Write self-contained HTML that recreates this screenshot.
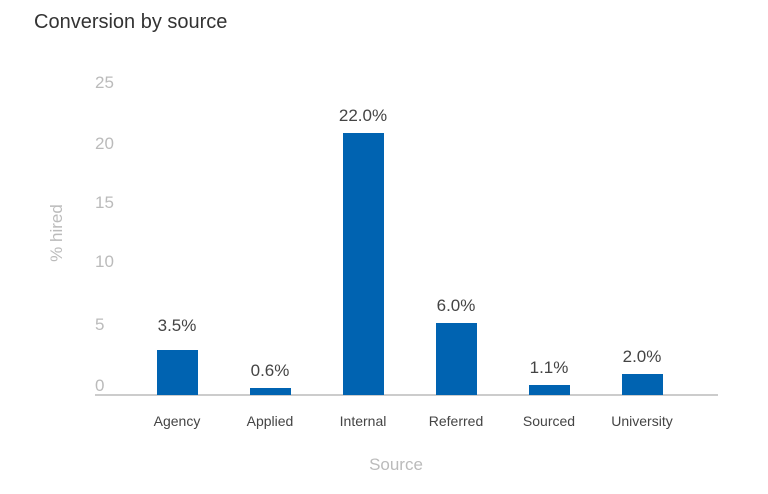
<!DOCTYPE html>
<html><head><style>
body{margin:0;width:768px;height:489px;background:#fff;font-family:"Liberation Sans",sans-serif;overflow:hidden}
</style></head><body>
<svg width="768" height="489" xmlns="http://www.w3.org/2000/svg" font-family="Liberation Sans, sans-serif">
<text x="34" y="28" font-size="20" fill="#333">Conversion by source</text>
<g font-size="17" fill="#bbb" text-anchor="start">
<text x="95" y="88">25</text>
<text x="95" y="149">20</text>
<text x="95" y="208">15</text>
<text x="95" y="267">10</text>
<text x="95" y="330">5</text>
<text x="95" y="391">0</text>
</g>
<text transform="translate(62,233) rotate(-90)" font-size="17" fill="#bbb" text-anchor="middle">% hired</text>
<line x1="95" y1="395" x2="718" y2="395" stroke="#bbb" stroke-width="1.5"/>
<g fill="#0063b1">
<rect x="157" y="350" width="41" height="45"/>
<rect x="250" y="388" width="41" height="7"/>
<rect x="343" y="133" width="41" height="262"/>
<rect x="436" y="323" width="41" height="72"/>
<rect x="529" y="385" width="41" height="10"/>
<rect x="622" y="374" width="41" height="21"/>
</g>
<g font-size="17" fill="#444" text-anchor="middle">
<text x="177" y="331">3.5%</text>
<text x="270" y="376">0.6%</text>
<text x="363" y="121">22.0%</text>
<text x="456" y="311">6.0%</text>
<text x="549" y="373">1.1%</text>
<text x="642" y="362">2.0%</text>
</g>
<g font-size="14" fill="#444" text-anchor="middle">
<text x="177" y="426">Agency</text>
<text x="270" y="426">Applied</text>
<text x="363" y="426">Internal</text>
<text x="456" y="426">Referred</text>
<text x="549" y="426">Sourced</text>
<text x="642" y="426">University</text>
</g>
<text x="396" y="470" font-size="17" fill="#bbb" text-anchor="middle">Source</text>
</svg>
</body></html>
